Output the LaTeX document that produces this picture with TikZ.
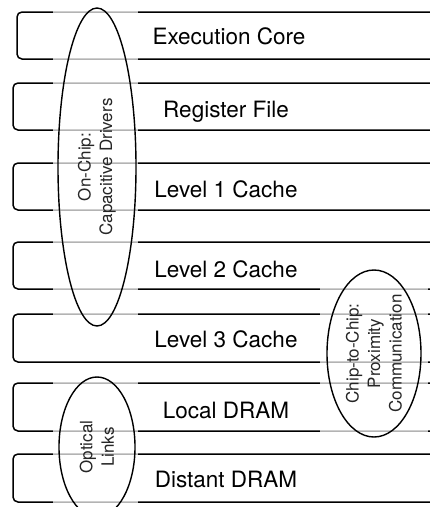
\documentclass[tikz,border=0pt]{standalone}
\usepackage{fontspec}
\setmainfont{TeX Gyre Heros}
\usetikzlibrary{shapes.geometric}
\begin{document}
\begin{tikzpicture}[x=1pt,y=-1pt,
  boxline/.style={line width=1.5pt, rounded corners=5pt},
  lbl/.style={anchor=base, font=\fontsize{22.5}{27}\selectfont, inner sep=0pt},
  veil/.style={fill=white, fill opacity=0.7},
  oval/.style={draw, line width=1.4pt, ellipse, inner sep=0pt, rotate=90,
    align=center, font=\fontsize{17}{21.5}\selectfont, text=black!85}]
\useasboundingbox (0,0) rectangle (430,507);
% layer boxes (open to the right)
\foreach \t/\b/\l/\bl/\tx/\cx/\nm in {
  12/59/17/44/Execution Core/229/exec,
  83/130/13/117/Register File/226/reg,
  163/210/13/197/Level 1 Cache/226/lone,
  242/289/13/277/Level 2 Cache/226/ltwo,
  314/362/13/347/Level 3 Cache/226/lthree,
  383/431/13/418/Local DRAM/226/ldram,
  454/502/13/487/Distant DRAM/226/ddram}{
  \draw[boxline] (430,\t) -- (\l,\t) -- (\l,\b) -- (430,\b);
  \node[lbl] (\nm) at (\cx,\bl) {\tx};
}
% translucent veils over the lines behind each oval
\fill[veil] (53,6) rectangle (138,328);
\fill[veil] (320,268) rectangle (428,439);
\fill[veil] (53,375) rectangle (138,507);
% ovals with their labels
\node[oval, minimum width=318, minimum height=78] (onchip) at (97,167)
  {On-Chip:\\Capacitive Drivers};
\node[oval, minimum width=167, minimum height=94] (c2c) at (374,353.5)
  {Chip-to-Chip:\\Proximity\\Communication};
\node[oval, minimum width=140, minimum height=76] (optical) at (97,447)
  {Optical\\Links};
\end{tikzpicture}
\end{document}
